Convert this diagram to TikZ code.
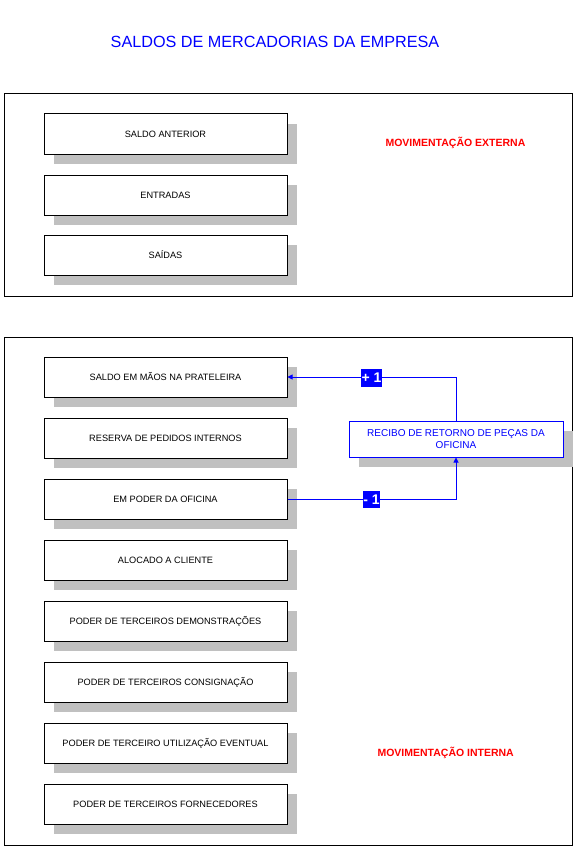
\documentclass[tikz,border=0pt]{standalone}
\usepackage{fontspec}
\setmainfont{Liberation Sans}
\usetikzlibrary{shadows,arrows.meta}
\definecolor{shadowgray}{RGB}{192,192,192}
\definecolor{pureblue}{RGB}{0,0,255}
\definecolor{purered}{RGB}{255,0,0}
\begin{document}
\begin{tikzpicture}[x=1pt,y=-1pt,
  frame/.style={draw=black,line width=1pt},
  itembox/.style={draw=black,line width=1pt,fill=white,minimum width=243pt,minimum height=40pt,
    inner sep=0pt,font=\fontsize{9.2}{11}\selectfont,
    drop shadow={shadow xshift=10pt,shadow yshift=-10pt,fill=shadowgray,opacity=1}},
  recbox/.style={draw=pureblue,line width=1pt,fill=white,minimum width=214pt,minimum height=36pt,
    inner sep=0pt,align=center,text=pureblue,font=\fontsize{10}{12}\selectfont,
    drop shadow={shadow xshift=10pt,shadow yshift=-10pt,fill=shadowgray,opacity=1}},
  conn/.style={draw=pureblue,line width=0.9pt,-{Triangle[length=5pt,width=5pt]}},
  tag/.style={fill=pureblue,text=white,font=\bfseries\fontsize{14}{14}\selectfont,inner sep=0pt,minimum height=18pt},
  redlabel/.style={text=purered,font=\bfseries\fontsize{10.5}{12}\selectfont,anchor=west},
  title/.style={text=pureblue,font=\fontsize{16.2}{18}\selectfont}
]
\useasboundingbox (0,0) rectangle (575,848);
\fill[white] (0,0) rectangle (575,848);

\node[title] (title) at (275,42) {SALDOS DE MERCADORIAS DA EMPRESA};

% top frame
\draw[frame] (4,94) rectangle (572,296);
\node[itembox] (a1) at (165.5,134) {SALDO ANTERIOR};
\node[itembox] (a2) at (165.5,195) {ENTRADAS};
\node[itembox] (a3) at (165.5,255) {SAÍDAS};
\node[redlabel] (ext) at (382,143) {MOVIMENTAÇÃO EXTERNA};

% bottom frame
\draw[frame] (4,337) rectangle (572,845);
\node[itembox] (b1) at (165.5,377) {SALDO EM MÃOS NA PRATELEIRA};
\node[itembox] (b2) at (165.5,438) {RESERVA DE PEDIDOS INTERNOS};
\node[itembox] (b3) at (165.5,499) {EM PODER DA OFICINA};
\node[itembox] (b4) at (165.5,560) {ALOCADO A CLIENTE};
\node[itembox] (b5) at (165.5,621) {PODER DE TERCEIROS DEMONSTRAÇÕES};
\node[itembox] (b6) at (165.5,682) {PODER DE TERCEIROS CONSIGNAÇÃO};
\node[itembox] (b7) at (165.5,743) {PODER DE TERCEIRO UTILIZAÇÃO EVENTUAL};
\node[itembox] (b8) at (165.5,804) {PODER DE TERCEIROS FORNECEDORES};
\node[redlabel] (int) at (374,753) {MOVIMENTAÇÃO INTERNA};

\node[recbox] (rec) at (456,439) {RECIBO DE RETORNO DE PEÇAS DA\\OFICINA};

\draw[conn] (rec.north) |- (b1.east);
\draw[conn] (b3.east) -| (rec.south);

\node[tag,minimum width=21pt] (plus) at (371.5,378) {+ 1};
\node[tag,minimum width=17pt,minimum height=17pt] (minus) at (371.5,499.5) {- 1};
\end{tikzpicture}
\end{document}
